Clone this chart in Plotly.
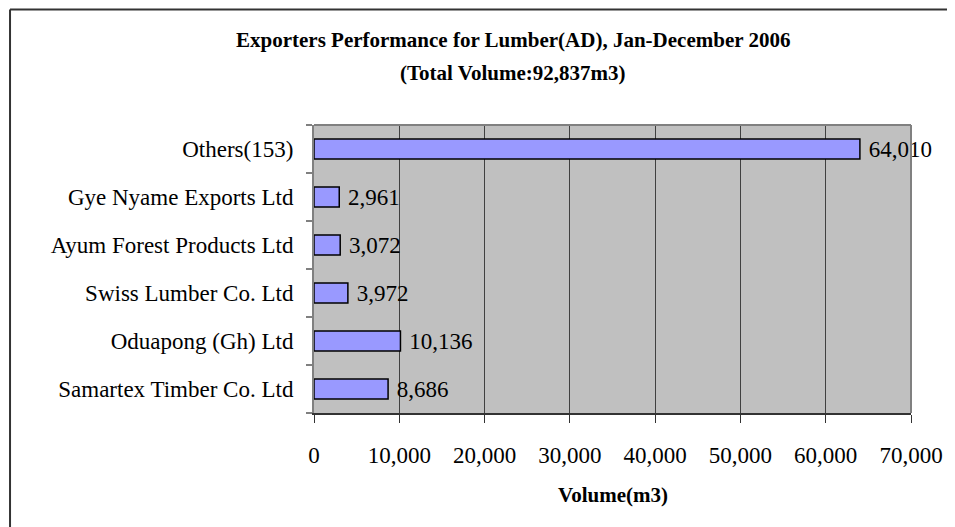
import plotly.graph_objects as go

categories = ["Samartex Timber Co. Ltd", "Oduapong (Gh) Ltd", "Swiss Lumber Co. Ltd",
              "Ayum Forest Products Ltd", "Gye Nyame Exports Ltd", "Others(153)"]
values = [8686, 10136, 3972, 3072, 2961, 64010]
x_ticks = [0, 10000, 20000, 30000, 40000, 50000, 60000, 70000]
x_tick_labels = ["0", "10,000", "20,000", "30,000", "40,000", "50,000", "60,000", "70,000"]
title_line1 = "Exporters Performance for Lumber(AD), Jan-December 2006"
title_line2 = "(Total Volume:92,837m3)"
x_title = "Volume(m3)"

# page body has an 8px margin; work in figure coordinates
OFF = 8
W, H = 955 - OFF, 527 - OFF
L, T = 314 - OFF, 125 - OFF
pw, ph = 600, 288
R, B = W - L - pw, H - T - ph

def px_x(p):
    return (p - OFF - L) / pw

def px_y(p):
    return (H + OFF - B - p) / ph

fig = go.Figure(go.Bar(
    y=categories, x=values, orientation="h",
    marker=dict(color="#9999FF", line=dict(color="black", width=1.5)),
    width=0.42,
    texttemplate=" %{x:,}", textposition="outside",
    constraintext="none",
    textfont=dict(family="Liberation Serif", size=23, color="black"),
    cliponaxis=False,
))

fig.update_layout(
    width=W, height=H,
    margin=dict(l=L, r=R, t=T, b=B),
    paper_bgcolor="white", plot_bgcolor="#C0C0C0",
    font=dict(family="Liberation Serif", color="black"),
    showlegend=False,
    xaxis=dict(range=[0, 70000], tickvals=x_ticks, ticktext=x_tick_labels,
               showgrid=True, gridcolor="#404040", gridwidth=1,
               showline=True, linecolor="#333333", linewidth=2,
               ticks="outside", ticklen=8, tickcolor="#333333", tickwidth=1,
               tickfont=dict(family="Liberation Serif", size=23, color="black"),
               ticklabelstandoff=12,
               zeroline=False, fixedrange=True),
    yaxis=dict(type="category", showgrid=False,
               showline=True, linecolor="#808080", linewidth=2,
               ticks="outside", ticklen=6, tickcolor="#808080", tickwidth=1.5,
               tickson="boundaries",
               tickfont=dict(family="Liberation Serif", size=23, color="black"),
               ticklabelstandoff=14, fixedrange=True),
    annotations=[
        dict(text="<b>" + title_line1 + "</b>", xref="paper", yref="paper",
             x=px_x(514), y=px_y(40), xanchor="center", yanchor="middle", showarrow=False,
             font=dict(family="Liberation Serif", size=21, color="black")),
        dict(text="<b>" + title_line2 + "</b>", xref="paper", yref="paper",
             x=px_x(514), y=px_y(73), xanchor="center", yanchor="middle", showarrow=False,
             font=dict(family="Liberation Serif", size=21, color="black")),
        dict(text="<b>" + x_title + "</b>", xref="paper", yref="paper",
             x=px_x(614), y=px_y(495), xanchor="center", yanchor="middle", showarrow=False,
             font=dict(family="Liberation Serif", size=21, color="black")),
    ],
    shapes=[
        dict(type="line", xref="paper", yref="paper", x0=0, x1=1,
             y0=1, y1=1, line=dict(color="#808080", width=2)),
        dict(type="line", xref="paper", yref="paper", x0=1, x1=1,
             y0=0, y1=1, line=dict(color="#808080", width=2)),
        dict(type="line", xref="paper", yref="paper", x0=px_x(8.5), x1=px_x(955),
             y0=px_y(9.5), y1=px_y(9.5), line=dict(color="#333333", width=2)),
        dict(type="line", xref="paper", yref="paper", x0=px_x(8.5), x1=px_x(8.5),
             y0=px_y(9.5), y1=px_y(527), line=dict(color="#333333", width=2)),
    ],
)

fig.write_html("out.html")
